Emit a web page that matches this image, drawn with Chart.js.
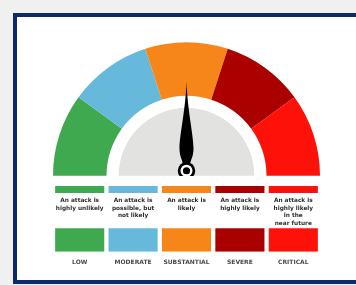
<!DOCTYPE html>
<html>
<head>
<meta charset="utf-8">
<script src="https://cdn.jsdelivr.net/npm/chart.js@4.4.1/dist/chart.umd.min.js"></script>
<style>
  html, body { margin: 0; padding: 0; }
  body { width: 356px; height: 285px; background: #f0f0f0; position: relative; overflow: hidden; }
  #card { position: absolute; left: 13px; top: 13px; width: 380px; height: 271px; box-sizing: border-box;
          border: 4px solid #0c2a6b; background: #ffffff; }
  #gaugeWrap { position: absolute; left: 53px; top: 42px; width: 267px; height: 134px; }
  #levelWrap { position: absolute; left: 53px; top: 186px; width: 267px; height: 87px; }
</style>
</head>
<body>
<div id="card"></div>
<div id="gaugeWrap"><canvas id="gauge"></canvas></div>
<div id="levelWrap"><canvas id="levels"></canvas></div>
<script>
// Threat levels, left to right
const levels = ['LOW', 'MODERATE', 'SUBSTANTIAL', 'SEVERE', 'CRITICAL'];
const descriptions = [
  ['An attack is', 'highly unlikely'],
  ['An attack is', 'possible, but', 'not likely'],
  ['An attack is', 'likely'],
  ['An attack is', 'highly likely'],
  ['An attack is', 'highly likely', 'in the', 'near future']
];
// each level takes the same share of the dial
const segmentShare = [1, 1, 1, 1, 1];
// current level on the dial (0 = far left, 5 = far right)
const needleValue = 2.5;
// floating bar spans on the hidden level axis
const keySpan = [12.5, 14];
const swatchSpan = [0, 5];

const palette = ['#3fa94f', '#66b9da', '#f7861a', '#ab0000', '#fe1108'];
const ringGray = '#e2e2e0';
const textColor = '#2e2e2e';

// Needle drawn on top of the dial
const needlePlugin = {
  id: 'needle',
  afterDatasetsDraw(chart) {
    const arc = chart.getDatasetMeta(0).data[0];
    const cx = arc.x, cy = arc.y - 5;
    const total = segmentShare.reduce((a, b) => a + b, 0);
    const angle = -Math.PI + (needleValue / total) * Math.PI;
    const len = 89;
    const ctx = chart.ctx;
    ctx.save();
    ctx.translate(cx, cy);
    ctx.rotate(angle + Math.PI / 2);
    ctx.fillStyle = '#000';
    ctx.beginPath();
    ctx.moveTo(0, -len);
    ctx.bezierCurveTo(1, -60, 7, -36, 7, -22);
    ctx.bezierCurveTo(7, -14, 4, -11, 3.5, -6);
    ctx.lineTo(-3.5, -6);
    ctx.bezierCurveTo(-4, -11, -7, -14, -7, -22);
    ctx.bezierCurveTo(-7, -36, -1, -60, 0, -len);
    ctx.closePath();
    ctx.fill();
    ctx.restore();

    ctx.save();
    ctx.beginPath();
    ctx.arc(cx, cy, 8.7, 0, Math.PI * 2);
    ctx.fillStyle = '#000';
    ctx.fill();
    ctx.beginPath();
    ctx.arc(cx, cy, 6, 0, Math.PI * 2);
    ctx.fillStyle = '#fff';
    ctx.fill();
    ctx.beginPath();
    ctx.arc(cx, cy, 3.6, 0, Math.PI * 2);
    ctx.fillStyle = '#000';
    ctx.fill();
    ctx.restore();
  }
};

new Chart(document.getElementById('gauge'), {
  type: 'doughnut',
  data: {
    labels: levels,
    datasets: [
      { data: segmentShare, backgroundColor: palette, borderWidth: 0, weight: 53.5 },
      { data: [1], backgroundColor: ['#ffffff'], borderWidth: 0, weight: 12 },
      { data: [1], backgroundColor: [ringGray], borderWidth: 0, weight: 68 }
    ]
  },
  options: {
    responsive: true,
    maintainAspectRatio: false,
    animation: false,
    events: [],
    rotation: -90,
    circumference: 180,
    cutout: 0,
    radius: 133.5,
    layout: { padding: 0 },
    plugins: { legend: { display: false }, tooltip: { enabled: false } }
  },
  plugins: [needlePlugin]
});

// Description text under each key bar
const descPlugin = {
  id: 'descriptions',
  afterDatasetsDraw(chart) {
    const ctx = chart.ctx;
    const x = chart.scales.x, y = chart.scales.y;
    const top = y.getPixelForValue(keySpan[0]) + 7.5;
    ctx.save();
    ctx.font = 'bold 5.8px "DejaVu Sans"';
    ctx.fillStyle = textColor;
    ctx.textAlign = 'center';
    ctx.textBaseline = 'middle';
    descriptions.forEach((lines, i) => {
      const cx = x.getPixelForValue(i);
      lines.forEach((line, j) => ctx.fillText(line, cx, top + j * 7.5));
    });
    ctx.restore();
  }
};

new Chart(document.getElementById('levels'), {
  type: 'bar',
  data: {
    labels: levels,
    datasets: [
      { data: levels.map(() => keySpan), backgroundColor: palette },
      { data: levels.map(() => swatchSpan), backgroundColor: palette }
    ]
  },
  options: {
    responsive: true,
    maintainAspectRatio: false,
    animation: false,
    events: [],
    layout: { padding: 0 },
    datasets: { bar: { grouped: false, categoryPercentage: 1, barPercentage: 0.92, borderWidth: 0 } },
    scales: {
      x: {
        grid: { display: false, drawTicks: false },
        border: { display: false },
        ticks: { color: '#4a4a4a', font: { family: 'DejaVu Sans', size: 6, weight: 'bold' }, padding: 7 }
      },
      y: { display: false, min: 0, max: 14 }
    },
    plugins: { legend: { display: false }, tooltip: { enabled: false } }
  },
  plugins: [descPlugin]
});
</script>
</body>
</html>
